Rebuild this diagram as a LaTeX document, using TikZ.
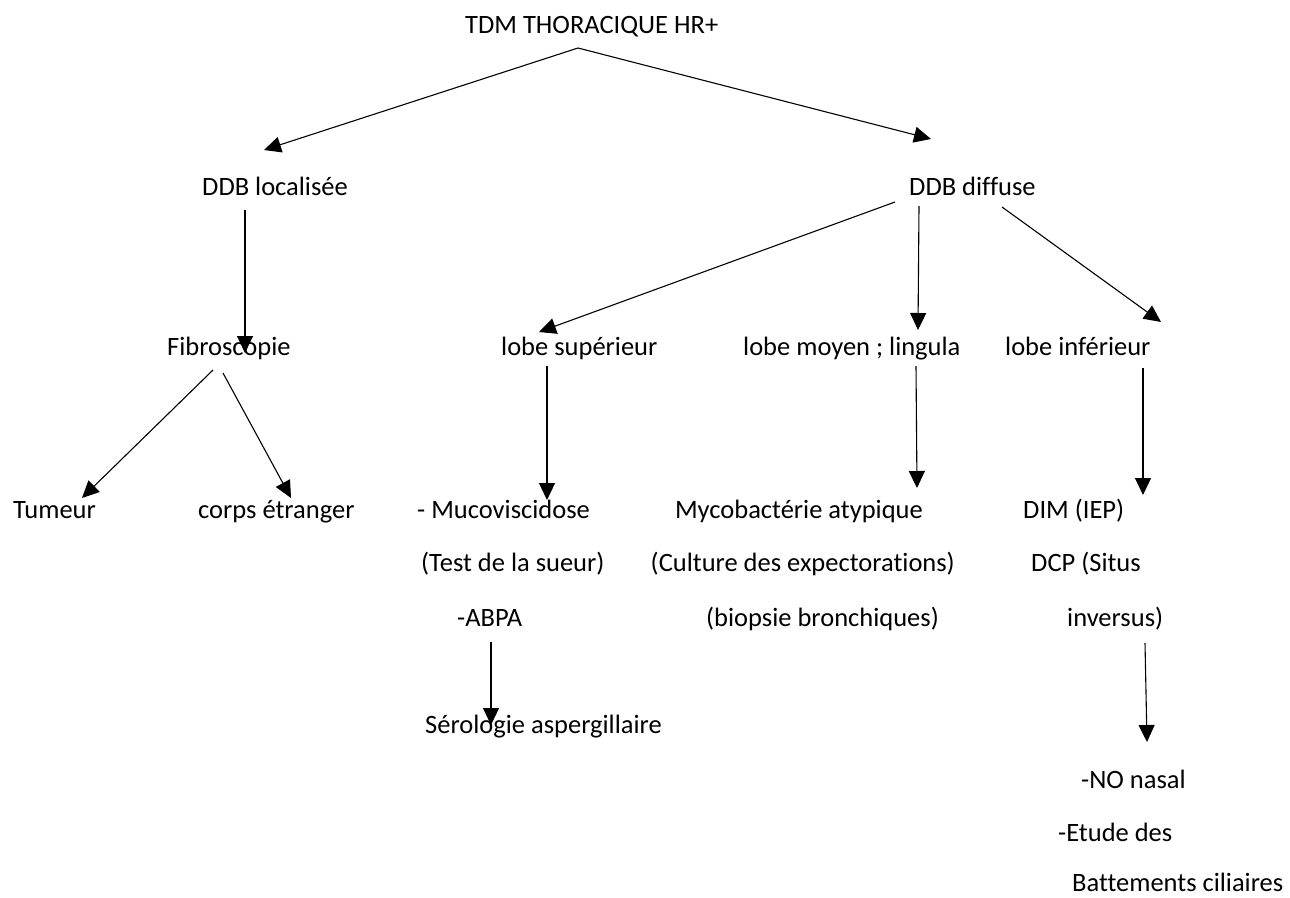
\documentclass[tikz,border=0pt]{standalone}
\usepackage{fontspec}
\setmainfont{Carlito}[Ligatures={NoCommon}]
\usetikzlibrary{arrows.meta}
\tikzset{
  lbl/.style={inner sep=0pt, anchor=base west, font=\fontsize{26.5}{32}\selectfont},
  lblr/.style={lbl, anchor=base east},
  conn/.style={line width=1.1pt, -{Triangle[length=17pt,width=16pt]}},
}
\begin{document}
\begin{tikzpicture}[x=1pt,y=-1pt]
\useasboundingbox (0,0) rectangle (1290,897);
% text nodes
\node[lbl] (tdm) at (465,33) {TDM THORACIQUE HR+};
\node[lbl] (loc) at (202,195) {DDB localisée};
\node[lbl] (dif) at (909,195) {DDB diffuse};
\node[lbl] (fib) at (167,355) {Fibroscopie};
\node[lbl] (sup) at (501,355) {lobe supérieur};
\node[lbl] (moy) at (743,355) {lobe moyen ; lingula};
\node[lbl] (inf) at (1005,355) {lobe inférieur};
\node[lbl] (tum) at (13,518) {Tumeur};
\node[lbl] (cor) at (198,518) {corps étranger};
\node[lbl] (muc) at (417,518) {- Mucoviscidose};
\node[lblr] (myc) at (923,518) {Mycobactérie atypique};
\node[lbl] (dim) at (1023,518) {DIM (IEP)};
\node[lbl] (test) at (421,571) {(Test de la sueur)};
\node[lblr] (cul) at (955,571) {(Culture des expectorations)};
\node[lbl] (dcp) at (1031,571) {DCP (Situs};
\node[lbl] (abpa) at (457,626) {-ABPA};
\node[lbl] (bio) at (706,626) {(biopsie bronchiques)};
\node[lbl] (inv) at (1067,626) {inversus)};
\node[lbl] (ser) at (425,733) {Sérologie aspergillaire};
\node[lbl] (no) at (1081,788) {-NO nasal};
\node[lbl] (etu) at (1058,841) {-Etude des};
\node[lbl] (bat) at (1072,891) {Battements ciliaires};
% connector end points
\coordinate (tdmS) at (578,48);
\coordinate (locN) at (264,150);
\coordinate (difN) at (931,139);
\coordinate (locS) at (245,210);
\coordinate (fibN) at (245,353);
\coordinate (fibSW) at (213,370);
\coordinate (tumN) at (82,498);
\coordinate (fibSE) at (223,373);
\coordinate (corN) at (291,498);
\coordinate (difSW) at (895,202);
\coordinate (supN) at (539,332);
\coordinate (difS) at (919,206);
\coordinate (moyN) at (918,330);
\coordinate (difSE) at (1002,207);
\coordinate (infN) at (1161,322);
\coordinate (supS) at (547,366);
\coordinate (mucN) at (547,500);
\coordinate (moyS) at (916,366);
\coordinate (mycN) at (917,488);
\coordinate (infS) at (1143,368);
\coordinate (dimN) at (1143,495);
\coordinate (abpaS) at (491,642);
\coordinate (serN) at (491,725);
\coordinate (invS) at (1145,643);
\coordinate (noN) at (1147,742);
% connectors
\draw[conn] (tdmS) -- (locN);
\draw[conn] (tdmS) -- (difN);
\draw[conn] (locS) -- (fibN);
\draw[conn] (fibSW) -- (tumN);
\draw[conn] (fibSE) -- (corN);
\draw[conn] (difSW) -- (supN);
\draw[conn] (difS) -- (moyN);
\draw[conn] (difSE) -- (infN);
\draw[conn] (supS) -- (mucN);
\draw[conn] (moyS) -- (mycN);
\draw[conn] (infS) -- (dimN);
\draw[conn] (abpaS) -- (serN);
\draw[conn] (invS) -- (noN);
\end{tikzpicture}
\end{document}
